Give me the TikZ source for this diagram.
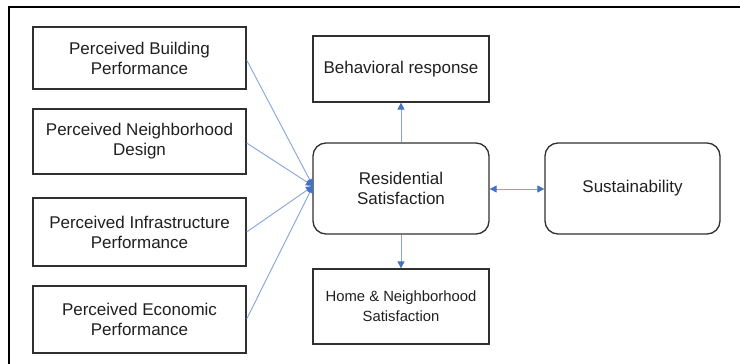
\documentclass[tikz,border=0pt]{standalone}
\usepackage{fontspec}
\setmainfont{Liberation Sans}
\usetikzlibrary{arrows.meta}
\definecolor{boxline}{HTML}{303030}
\definecolor{conn}{HTML}{86A4DC}
\definecolor{tipc}{HTML}{4472C4}
\definecolor{txt}{HTML}{202020}
\tikzset{
  box/.style={draw=boxline, line width=1.3pt, align=center, inner sep=0pt, text=txt,
    font=\fontsize{17}{20}\selectfont},
  rbox/.style={box, rounded corners=13pt},
  conn/.style={draw=conn, line width=0.9pt, -{Triangle[length=7pt,width=7pt,fill=tipc,color=tipc]}},
  dconn/.style={draw=conn, line width=0.9pt, {Triangle[length=7pt,width=7pt,fill=tipc,color=tipc]}-{Triangle[length=7pt,width=7pt,fill=tipc,color=tipc]}}
}
\begin{document}
\begin{tikzpicture}[x=1pt,y=-1pt]
\useasboundingbox (0,0) rectangle (740,364);
\fill[white] (0,0) rectangle (740,364);
\draw[line width=2pt, black] (9,365) -- (9,7) -- (741,7);

\node[box, minimum width=213pt, minimum height=62pt] (pbp) at (139.5,58) {Perceived Building\\Performance};
\node[box, minimum width=213pt, minimum height=65pt] (pnd) at (139.5,141.5) {Perceived Neighborhood\\Design};
\node[box, minimum width=213pt, minimum height=68pt] (pif) at (139.5,232) {Perceived Infrastructure\\Performance};
\node[box, minimum width=213pt, minimum height=67pt] (pep) at (139.5,319.5) {Perceived Economic\\Performance};

\node[box, minimum width=176pt, minimum height=66pt] (br) at (401,69) {Behavioral response};
\node[rbox, minimum width=176pt, minimum height=91pt] (rs) at (401,188.5) {Residential\\Satisfaction};
\node[rbox, minimum width=175pt, minimum height=91pt] (su) at (632.5,188.5) {Sustainability};
\node[box, minimum width=176pt, minimum height=75pt, font=\fontsize{14.8}{20}\selectfont] (hn) at (401,306.5) {Home \& Neighborhood\\Satisfaction};

\coordinate (tgt) at (313,186);
\draw[conn] (pbp.east |- 0,60) -- (tgt);
\draw[conn] (pnd.east |- 0,143) -- (tgt);
\draw[conn] (pif.east |- 0,232) -- (tgt);
\draw[conn] (pep.east |- 0,319) -- (tgt);

\draw[conn] (rs.north) -- (br.south);
\draw[conn] (rs.south) -- (hn.south |- hn.north);
\draw[dconn] (rs.east |- 0,189) -- (su.west |- 0,189);
\end{tikzpicture}
\end{document}
